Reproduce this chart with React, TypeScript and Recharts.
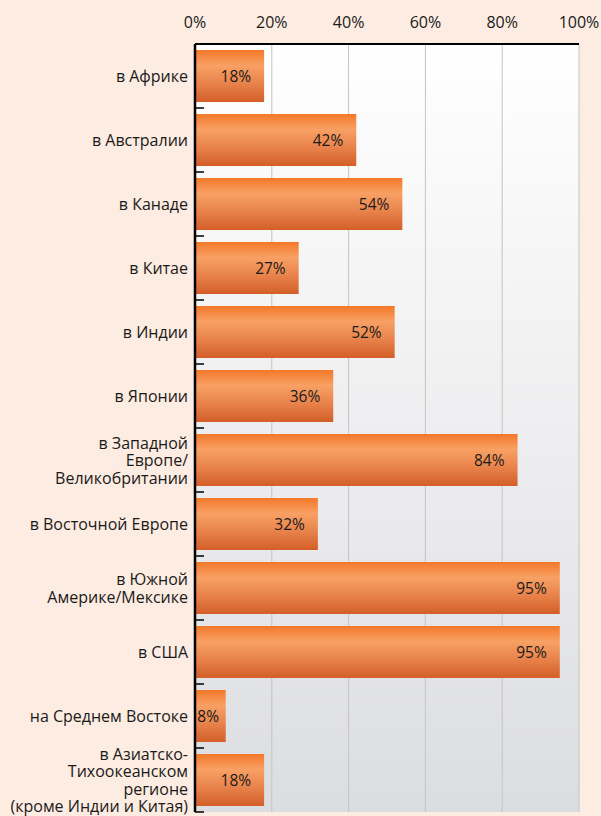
import React from "react";
import { BarChart, Bar, XAxis, YAxis, CartesianGrid, LabelList } from "recharts";

const regions = [
  "в Африке",
  "в Австралии",
  "в Канаде",
  "в Китае",
  "в Индии",
  "в Японии",
  "в Западной\nЕвропе/\nВеликобритании",
  "в Восточной Европе",
  "в Южной\nАмерике/Мексике",
  "в США",
  "на Среднем Востоке",
  "в Азиатско-\nТихоокеанском\nрегионе\n(кроме Индии и Китая)",
];
const shares = [18, 42, 54, 27, 52, 36, 84, 32, 95, 95, 8, 18];
const percentTicks = [0, 20, 40, 60, 80, 100];

const data = regions.map((region, i) => ({ region, share: shares[i] }));

const FONT = "'Open Sans', sans-serif";
const HALF_BAND = 32;

function RegionTick(props: any) {
  const { x, y, payload } = props;
  const lines: string[] = String(payload.value).split("\n");
  const lh = 17.5;
  const start = y - ((lines.length - 1) * lh) / 2 + 6;
  return (
    <g>
      <line x1={x + 7} x2={x + 16} y1={y + HALF_BAND} y2={y + HALF_BAND} stroke="#000" strokeWidth={1.5} />
      <text textAnchor="end" fontFamily={FONT} fontSize={16} fill="#1a1a1a">
        {lines.map((l, i) => (
          <tspan key={i} x={x} y={start + i * lh}>
            {l}
          </tspan>
        ))}
      </text>
    </g>
  );
}

function PercentTick(props: any) {
  const { x, payload } = props;
  return (
    <text x={x} y={28} textAnchor="middle" fontFamily={FONT} fontSize={16} fill="#1a1a1a">
      {payload.value}%
    </text>
  );
}

// label sits near the bar end, but stays inside short bars
function ValueLabel(props: any) {
  const { x, y, width, height, value } = props;
  const txt = `${value}%`;
  const tw = txt.length * 8.6;
  const pad = Math.min(13, (width - tw) / 2);
  return (
    <text
      x={x + width - pad}
      y={y + height / 2 + 5.5}
      textAnchor="end"
      fontFamily={FONT}
      fontSize={15.5}
      fill="#1a1a1a"
    >
      {txt}
    </text>
  );
}

export default function App() {
  return (
    <div style={{ position: "fixed", left: 0, top: 0, width: 601, height: 816, background: "#fdece1" }}>
      <BarChart
        width={601}
        height={816}
        data={data}
        layout="vertical"
        margin={{ top: 0, right: 22, bottom: 4, left: 0 }}
      >
        <defs>
          <linearGradient id="plotBg" x1="0" y1="0" x2="0" y2="1">
            <stop offset="0%" stopColor="#ffffff" />
            <stop offset="100%" stopColor="#dcdde0" />
          </linearGradient>
          <linearGradient id="barFill" x1="0" y1="0" x2="0" y2="1">
            <stop offset="0%" stopColor="#f47828" />
            <stop offset="30%" stopColor="#f8a065" />
            <stop offset="65%" stopColor="#e7824a" />
            <stop offset="100%" stopColor="#d45e28" />
          </linearGradient>
        </defs>
        <CartesianGrid horizontal={false} stroke="#c4c4c4" fill="url(#plotBg)" />
        <XAxis
          type="number"
          orientation="top"
          domain={[0, 100]}
          ticks={percentTicks}
          height={44}
          tickLine={false}
          axisLine={{ stroke: "#000", strokeWidth: 2 }}
          tick={<PercentTick />}
          interval={0}
        />
        <YAxis
          type="category"
          dataKey="region"
          width={195}
          tickLine={false}
          tickSize={0}
          tickMargin={7}
          axisLine={{ stroke: "#000", strokeWidth: 2.5 }}
          tick={<RegionTick />}
          interval={0}
        />
        <Bar dataKey="share" fill="url(#barFill)" barSize={52} isAnimationActive={false}>
          <LabelList dataKey="share" content={<ValueLabel />} />
        </Bar>
      </BarChart>
    </div>
  );
}
